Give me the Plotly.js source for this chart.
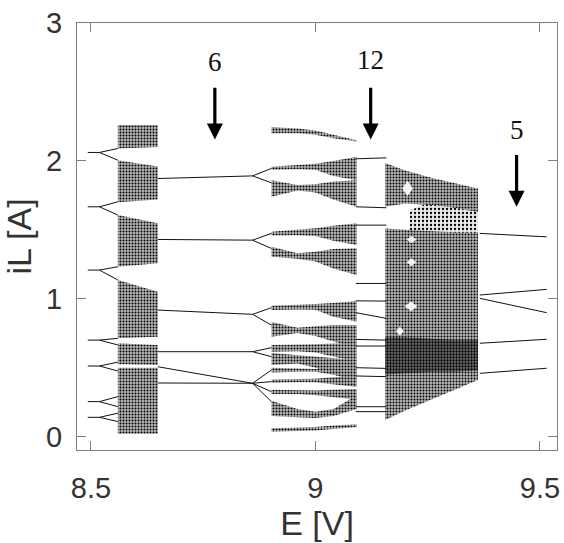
<!DOCTYPE html>
<html><head><meta charset="utf-8">
<script src="https://cdn.plot.ly/plotly-3.0.1.min.js"></script>
<style>html,body{margin:0;padding:0;background:#fff;}#chart{width:564px;height:543px;}</style>
</head><body><div id="chart"></div>
<script>
// ---------------- data ----------------
// period-7 trunks and their period-14 split (onset of chaos at E = 8.560)
const p7E = [8.493, 8.519];
const p7IL = [2.061, 1.667, 1.208, 0.700, 0.512, 0.254, 0.140];
const p14E = [8.519, 8.560];
const p14Up = [2.090, 1.703, 1.232, 0.713, 0.540, 0.290, 0.170];
const p14Dn = [2.005, 1.607, 1.136, 0.665, 0.476, 0.217, 0.109];

// first chaotic window: band edges at its left and right end
const chaos1E = [8.560, 8.649];
const chaos1Top = [[2.26, 2.26], [2.005, 1.96], [1.607, 1.548], [1.136, 1.05], [0.678, 0.665], [0.50, 0.50]];
const chaos1Bot = [[2.09, 2.10], [1.70, 1.72], [1.232, 1.258], [0.714, 0.725], [0.525, 0.52], [0.02, 0.02]];

// period-6 orbit
const p6E = [8.649, 8.860];
const p6Start = [1.872, 1.430, 0.918, 0.616, 0.507, 0.389];
const p6End = [1.891, 1.425, 0.887, 0.616, 0.387, 0.387];

// period-doubled arms after E = 8.860
const armE = [8.860, 8.902];
const armStart = [1.891, 1.891, 1.425, 1.425, 0.887, 0.887, 0.616, 0.616, 0.387, 0.387, 0.387, 0.387];
const armEnd = [1.945, 1.841, 1.474, 1.365, 0.935, 0.809, 0.645, 0.580, 0.483, 0.399, 0.326, 0.254];

// second chaotic window: band edges
const chaos2E = [8.902, 8.96, 9.00, 9.04, 9.092];
const chaos2Top = [
  [2.245, 2.235, 2.22, 2.19, 2.15],
  [1.958, 1.97, 1.98, 2.00, 2.03],
  [1.86, 1.825, 1.83, 1.85, 1.86],
  [1.486, 1.50, 1.512, 1.53, 1.548],
  [1.377, 1.33, 1.34, 1.36, 1.367],
  [0.949, 0.955, 0.962, 0.97, 0.983],
  [0.831, 0.79, 0.80, 0.81, 0.809],
  [0.664, 0.665, 0.67, 0.675, 0.677],
  [0.606, 0.59, 0.58, 0.57, 0.556],
  [0.50, 0.495, 0.49, 0.50, 0.52],
  [0.415, 0.42, 0.42, 0.43, 0.44],
  [0.34, 0.335, 0.335, 0.34, 0.345],
  [0.26, 0.20, 0.18, 0.20, 0.30],
  [0.06, 0.065, 0.07, 0.08, 0.09]
];
const chaos2Bot = [
  [2.20, 2.20, 2.19, 2.165, 2.14],
  [1.935, 1.94, 1.935, 1.89, 1.86],
  [1.74, 1.785, 1.77, 1.72, 1.667],
  [1.458, 1.46, 1.455, 1.42, 1.389],
  [1.304, 1.29, 1.27, 1.22, 1.172],
  [0.918, 0.922, 0.92, 0.87, 0.833],
  [0.725, 0.752, 0.73, 0.69, 0.643],
  [0.616, 0.62, 0.61, 0.58, 0.543],
  [0.520, 0.53, 0.50, 0.45, 0.399],
  [0.465, 0.47, 0.47, 0.45, 0.42],
  [0.39, 0.395, 0.395, 0.38, 0.36],
  [0.31, 0.31, 0.30, 0.29, 0.27],
  [0.15, 0.14, 0.135, 0.15, 0.20],
  [0.035, 0.04, 0.045, 0.055, 0.07]
];

// period-12 orbit
const p12E = [9.090, 9.158];
const p12Start = [2.015, 1.667, 1.534, 1.111, 0.985, 0.899, 0.705, 0.657, 0.500, 0.440, 0.217, 0.181];
const p12End = [2.022, 1.660, 1.534, 1.111, 0.983, 0.858, 0.700, 0.657, 0.495, 0.435, 0.217, 0.181];

// third chaotic window
const chaos3E = [9.155, 9.20, 9.26, 9.31, 9.362];
const chaos3Top = [[1.985, 1.93, 1.875, 1.84, 1.80], [1.51, 1.50, 1.49, 1.48, 1.48]];
const chaos3Bot = [[1.667, 1.69, 1.68, 1.66, 1.63], [0.12, 0.19, 0.27, 0.34, 0.41]];
// darker core of the third window
const coreTop = [0.72, 0.72, 0.71, 0.70, 0.70];
const coreBot = [0.45, 0.46, 0.47, 0.47, 0.48];
// sparse scatter between the two parts of the third window
const sparseE = [9.21, 9.27, 9.362];
const sparseTop = [1.64, 1.72, 1.68];
const sparseBot = [1.48, 1.46, 1.44];
// white periodic-window "eyes" inside the third window: centre E, centre iL, half-width, half-height
const holeE = [9.213, 9.188, 9.214, 9.214, 9.205];
const holeIL = [0.945, 0.765, 1.43, 1.265, 1.80];
const holeHalfE = [0.014, 0.009, 0.011, 0.011, 0.012];
const holeHalfIL = [0.035, 0.032, 0.026, 0.028, 0.055];

// period-5 orbit
const p5E = [9.366, 9.515];
const p5Start = [1.474, 1.027, 1.003, 0.677, 0.459];
const p5End = [1.449, 1.068, 0.899, 0.706, 0.496];

// arrow labels
const markLabels = ['6', '12', '5'];
const markE = [8.776, 9.123, 9.448];
const markTextIL = [2.715, 2.73, 2.222];
const markTailIL = [2.541, 2.541, 2.054];
const markTipIL = [2.155, 2.155, 1.667];

// ---------------- traces ----------------
const traces = [];
function pattern(bg, solidity, size) {
  return {shape: '.', size: size, solidity: solidity, fgcolor: '#000', bgcolor: bg, fillmode: 'replace'};
}
const bandStyle = {
  fill: 'toself', mode: 'lines', line: {width: 0, color: 'rgba(0,0,0,0)'},
  fillcolor: '#b4b4b4', fillpattern: pattern('#b4b4b4', 0.32, 3),
  hoverinfo: 'skip', showlegend: false
};
function band(E, top, bot, extra) {
  traces.push(Object.assign({}, bandStyle, {
    x: E.concat(E.slice().reverse()),
    y: top.concat(bot.slice().reverse())
  }, extra || {}));
}
band(sparseE, sparseTop, sparseBot, {fillcolor: '#e6e6e6', fillpattern: pattern('#e6e6e6', 0.25, 4)});
chaos1Top.forEach((t, i) => band(chaos1E, t, chaos1Bot[i]));
chaos2Top.forEach((t, i) => band(chaos2E, t, chaos2Bot[i]));
chaos3Top.forEach((t, i) => band(chaos3E, t, chaos3Bot[i]));
band(chaos3E, coreTop, coreBot, {fillcolor: '#707070', fillpattern: pattern('#707070', 0.45, 3)});

// white diamond-shaped holes
const hx = [], hy = [];
holeE.forEach((e, i) => {
  const w = holeHalfE[i], h = holeHalfIL[i], c = holeIL[i];
  hx.push(e - w, e, e + w, e, e - w, null);
  hy.push(c, c + h, c, c - h, c, null);
});
traces.push({x: hx, y: hy, fill: 'toself', mode: 'lines', line: {width: 0, color: 'rgba(0,0,0,0)'},
  fillcolor: '#f4f4f4', hoverinfo: 'skip', showlegend: false});

// periodic branches as thin lines
const lx = [], ly = [];
function seg(E, a, b) { lx.push(E[0], E[1], null); ly.push(a, b, null); }
p7IL.forEach(v => seg(p7E, v, v));
p7IL.forEach((v, i) => { seg(p14E, v, p14Up[i]); seg(p14E, v, p14Dn[i]); });
p6Start.forEach((v, i) => seg(p6E, v, p6End[i]));
armStart.forEach((v, i) => seg(armE, v, armEnd[i]));
p12Start.forEach((v, i) => seg(p12E, v, p12End[i]));
p5Start.forEach((v, i) => seg(p5E, v, p5End[i]));
traces.push({x: lx, y: ly, mode: 'lines', line: {color: '#111', width: 1},
  hoverinfo: 'skip', showlegend: false, connectgaps: false});

// ---------------- annotations ----------------
const annotations = [];
markLabels.forEach((t, i) => {
  annotations.push({x: markE[i], y: markTextIL[i], xref: 'x', yref: 'y', text: t, showarrow: false,
    font: {family: 'Liberation Serif, Times New Roman, serif', size: 27, color: '#111'}});
  annotations.push({x: markE[i], y: markTipIL[i], ax: markE[i], ay: markTailIL[i],
    xref: 'x', yref: 'y', axref: 'x', ayref: 'y', text: '', showarrow: true,
    arrowhead: 2, arrowsize: 1, arrowwidth: 3.2, arrowcolor: '#000', standoff: 0});
});

const tickFont = {family: 'Liberation Sans, Arial, sans-serif', size: 29, color: '#333'};
const titleFont = {family: 'Liberation Sans, Arial, sans-serif', size: 34, color: '#333'};
const axisCommon = {
  showgrid: false, zeroline: false, showline: true, linecolor: '#7f7f7f', linewidth: 1,
  mirror: 'ticks', ticks: 'inside', ticklen: 9, tickcolor: '#7f7f7f', tickwidth: 1,
  tickfont: tickFont
};
const layout = {
  width: 564, height: 543,
  margin: {l: 77, r: 7, t: 23, b: 93},
  paper_bgcolor: '#fff', plot_bgcolor: '#fff',
  showlegend: false, hovermode: false,
  xaxis: Object.assign({}, axisCommon, {
    range: [8.469, 9.538], tickvals: [8.5, 9, 9.5], ticktext: ['8.5', '9', '9.5'],
    ticklabelstandoff: 12,
    title: {text: 'E [V]', font: titleFont, standoff: 6}
  }),
  yaxis: Object.assign({}, axisCommon, {
    range: [-0.097, 3], tickvals: [0, 1, 2, 3], ticktext: ['0', '1', '2', '3'],
    ticklabelstandoff: 8,
    title: {text: 'iL [A]', font: titleFont, standoff: 4}
  }),
  annotations: annotations
};
Plotly.newPlot('chart', traces, layout, {staticPlot: true, displayModeBar: false});
</script>
</body></html>
